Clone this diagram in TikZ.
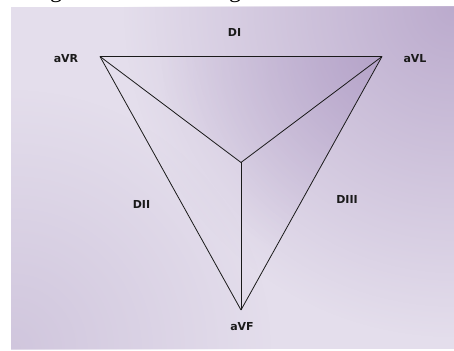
\documentclass[tikz,border=0pt]{standalone}
\usepackage{fontspec}
\setmainfont{DejaVu Sans}
\newfontfamily\titleserif{Liberation Serif}
\usetikzlibrary{fadings}
\tikzfading[name=cornerfade, inner color=transparent!0, outer color=transparent!100]
\definecolor{bgbase}{HTML}{E4DEEC}
\definecolor{purpleTR}{HTML}{AE9AC3}
\definecolor{purpleBL}{HTML}{B8A9CB}
\definecolor{purpleIn}{HTML}{A893C0}
\definecolor{inkc}{HTML}{1A1A1A}
\begin{document}
\begin{tikzpicture}[x=1pt,y=1pt,
  lbl/.style={font=\fontsize{11}{13}\selectfont\bfseries, text=inkc, inner sep=0pt},
  edge/.style={draw=inkc, line width=0.8pt, line join=round}]
\useasboundingbox (0,0) rectangle (454,350);
\fill[white] (0,0) rectangle (454,350);
% cut-off title glyphs at the top edge
\begin{scope}
  \clip (0,343) rectangle (454,350);
  \node[anchor=base, inner sep=0pt, font=\titleserif\fontsize{24}{28}\selectfont] (t1) at (56,352.5) {g};
  \node[anchor=base, inner sep=0pt, font=\titleserif\fontsize{24}{28}\selectfont] (t2) at (235,352.5) {g};
\end{scope}
% background panel
\fill[bgbase] (11,1) rectangle (454,343);
\begin{scope}
  \clip (11,1) rectangle (454,343);
  \fill[purpleTR, path fading=cornerfade, opacity=0.75] (454,343) circle (330);
  \fill[purpleBL, path fading=cornerfade, opacity=0.45] (11,1) circle (260);
\end{scope}
% vertices
\coordinate (R) at (100,293.5);
\coordinate (L) at (382,293.5);
\coordinate (F) at (241,40);
\coordinate (C) at (241,187.5);
% inner darker shading near aVL
\begin{scope}
  \clip (R) -- (L) -- (F) -- (C) -- cycle;
  \fill[purpleIn, path fading=cornerfade, opacity=0.55] (L) circle (220);
\end{scope}
% edges
\draw[edge] (R) -- (L);
\draw[edge] (R) -- (F);
\draw[edge] (R) -- (C);
\draw[edge] (L) -- (C);
\draw[edge] (L) -- (F);
\draw[edge] (C) -- (F);
% labels
\node[lbl] (dI) at (234.5,318) {DI};
\node[lbl] (aVR) at (66,291) {aVR};
\node[lbl] (aVL) at (415,291) {aVL};
\node[lbl] (aVF) at (242,23.3) {aVF};
\node[lbl] (dII) at (141.5,146) {DII};
\node[lbl] (dIII) at (347,151) {DIII};
\end{tikzpicture}
\end{document}
